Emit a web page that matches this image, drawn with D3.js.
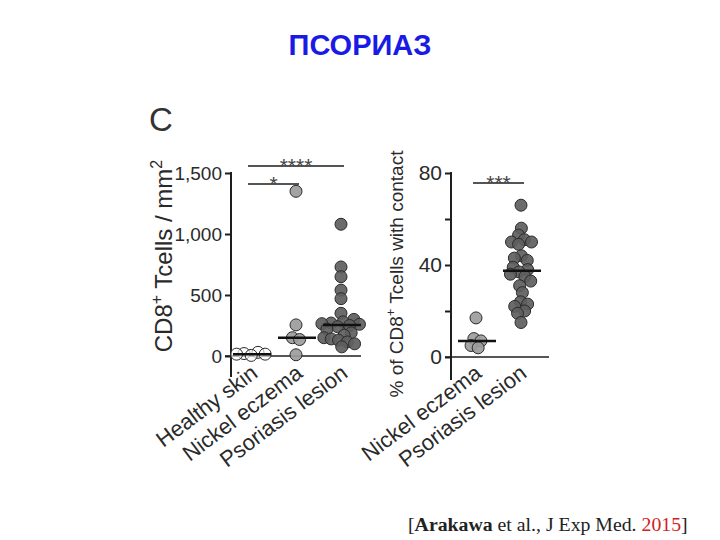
<!DOCTYPE html>
<html>
<head>
<meta charset="utf-8">
<script src="https://cdn.jsdelivr.net/npm/d3@7"></script>
<style>
  body { margin: 0; background: #fff; }
  svg { display: block; font-family: "Liberation Sans", Arial, sans-serif; }
</style>
</head>
<body>
<svg id="chart" width="720" height="540"></svg>
<script>
// ---------- data ----------
const leftCategories = ["Healthy skin", "Nickel eczema", "Psoriasis lesion"];
const leftHealthy = [30, 20, 15, 15, 5];
const leftNickel = [1350, 255, 150, 135, 10];
const leftPsoriasis = [1080, 730, 650, 540, 470, 350, 300, 280, 270, 265, 260, 250,
                       240, 220, 190, 170, 150, 140, 130, 115, 100, 75];
const leftTicks = [0, 500, 1000, 1500];
const leftTickLabels = ["0", "500", "1,000", "1,500"];

const rightCategories = ["Nickel eczema", "Psoriasis lesion"];
const rightNickel = [17, 8, 7, 5, 4];
const rightPsoriasis = [66, 56, 53, 51, 50, 50, 49, 44, 43, 42, 39, 38, 37, 36, 35,
                        33, 31, 28, 24, 23, 22, 20, 19, 15];
const rightTicks = [0, 20, 40, 60, 80];
const rightTickLabels = ["0", "", "40", "", "80"];

const leftSig = [{from: "Healthy skin", to: "Nickel eczema", label: "*", level: 0},
                 {from: "Healthy skin", to: "Psoriasis lesion", label: "****", level: 1}];
const rightSig = [{from: "Nickel eczema", to: "Psoriasis lesion", label: "***", level: 0}];

// ---------- styles ----------
const fills = {"Healthy skin": "#ffffff", "Nickel eczema": "#9c9c9c", "Psoriasis lesion": "#5e5e5e"};
const axisColor = "#1e1e1e";
const textColor = "#2a2a2a";
const R = 6;

const svg = d3.select("#chart");

// Title
svg.append("text").attr("x", 360).attr("y", 55).attr("text-anchor", "middle")
  .attr("font-size", 29).attr("font-weight", "bold").attr("fill", "#1a1ae6")
  .text("ПСОРИАЗ");

// Panel letter
svg.append("text").attr("x", 149).attr("y", 131)
  .attr("font-size", 33).attr("fill", "#333").text("C");

// Citation
const cit = svg.append("text").attr("x", 408).attr("y", 531)
  .attr("font-family", "'Liberation Serif', 'Times New Roman', serif")
  .attr("font-size", 19.8).attr("fill", "#222");
cit.append("tspan").text("[");
cit.append("tspan").attr("font-weight", "bold").text("Arakawa");
cit.append("tspan").text(" et al., J Exp Med. ");
cit.append("tspan").attr("fill", "#d42020").text("2015");
cit.append("tspan").text("]");

function swarm(values, cx, y) {
  const nodes = values.map((v, i) => ({v, x: cx, y: y(v), fy: y(v), i}));
  const sim = d3.forceSimulation(nodes)
    .force("x", d3.forceX(cx).strength(0.12))
    .force("collide", d3.forceCollide(R * 0.62))
    .stop();
  for (let k = 0; k < 300; k++) sim.tick();
  nodes.forEach(n => n.y = n.fy);
  return nodes;
}

function panel(opts) {
  const g = svg.append("g");
  const y = d3.scaleLinear().domain(opts.domain).range([opts.y0, opts.y1]);
  const x = d3.scalePoint().domain(opts.categories).range(opts.xRange);
  // y axis
  const axis = d3.axisLeft(y).tickValues(opts.ticks).tickSize(6)
    .tickFormat((d, i) => opts.tickLabels[i]);
  const ag = g.append("g").attr("transform", `translate(${opts.axisX},0)`).call(axis);
  ag.select(".domain").remove();
  ag.selectAll(".tick line").attr("stroke", axisColor).attr("stroke-width", 2);
  ag.selectAll(".tick text").attr("font-size", opts.tickFont).attr("fill", textColor)
    .attr("x", -9).attr("font-family", "'Liberation Sans', Arial, sans-serif");
  g.append("line").attr("x1", opts.axisX).attr("x2", opts.axisX)
    .attr("y1", y(opts.domain[1]) - 1).attr("y2", opts.axisBottom)
    .attr("stroke", axisColor).attr("stroke-width", 2);
  // baseline at 0
  g.append("line").attr("x1", opts.axisX - 6).attr("x2", opts.baseEnd)
    .attr("y1", y(0)).attr("y2", y(0))
    .attr("stroke", axisColor).attr("stroke-width", 1.5);

  // points
  opts.series.forEach((vals, si) => {
    const cat = opts.categories[si];
    const nodes = swarm(vals, x(cat), y);
    g.append("g").selectAll("circle").data(nodes).join("circle")
      .attr("cx", d => d.x).attr("cy", d => d.y).attr("r", R)
      .attr("fill", fills[cat]).attr("fill-opacity", cat === "Healthy skin" ? 0.6 : 0.92)
      .attr("stroke", "#2b2b2b").attr("stroke-width", 1);
    const med = d3.median(vals);
    g.append("line").attr("x1", x(cat) - 18).attr("x2", x(cat) + 20)
      .attr("y1", y(med)).attr("y2", y(med))
      .attr("stroke", "#111").attr("stroke-width", 2.5);
  });

  // significance
  opts.sig.forEach(s => {
    const yy = opts.sigY - s.level * opts.sigStep;
    const x1 = x(s.from) - 3, x2 = x(s.to) + 3;
    g.append("line").attr("x1", x1).attr("x2", x2).attr("y1", yy).attr("y2", yy)
      .attr("stroke", "#555").attr("stroke-width", 1.8);
    g.append("text").attr("x", (x1 + x2) / 2).attr("y", yy + 7).attr("text-anchor", "middle")
      .attr("font-size", 21).attr("fill", "#444").text(s.label);
  });

  // x labels
  opts.categories.forEach(cat => {
    g.append("text")
      .attr("transform", `translate(${x(cat) + opts.labelDx},${opts.labelY}) rotate(-37)`)
      .attr("text-anchor", "end").attr("font-size", opts.xFont).attr("fill", textColor)
      .text(cat);
  });

  // y label
  const yl = g.append("text")
    .attr("transform", `translate(${opts.ylabX},${opts.ylabY}) rotate(-90)`)
    .attr("text-anchor", "middle").attr("font-size", opts.ylabFont).attr("fill", textColor);
  opts.ylab(yl);
}

panel({
  domain: [0, 1500], y0: 356, y1: 173, axisX: 231, axisBottom: 377, baseEnd: 361,
  categories: leftCategories, xRange: [251, 341],
  ticks: leftTicks, tickLabels: leftTickLabels, tickFont: 19,
  series: [leftHealthy, leftNickel, leftPsoriasis],
  sig: leftSig, sigY: 184, sigStep: 18,
  labelDx: 8, labelY: 376, xFont: 22,
  ylabX: 172, ylabY: 256, ylabFont: 24,
  ylab: t => {
    t.append("tspan").text("CD8");
    t.append("tspan").attr("dy", -10).attr("font-size", 16).text("+");
    t.append("tspan").attr("dy", 10).text(" Tcells / mm");
    t.append("tspan").attr("dy", -10).attr("font-size", 16).text("2");
  }
});

panel({
  domain: [0, 80], y0: 357, y1: 173, axisX: 451, axisBottom: 380, baseEnd: 549,
  categories: rightCategories, xRange: [476, 521],
  ticks: rightTicks, tickLabels: rightTickLabels, tickFont: 21,
  series: [rightNickel, rightPsoriasis],
  sig: rightSig, sigY: 183, sigStep: 18,
  labelDx: 7, labelY: 376, xFont: 22,
  ylabX: 403, ylabY: 274, ylabFont: 19,
  ylab: t => {
    t.append("tspan").text("% of CD8");
    t.append("tspan").attr("dy", -8).attr("font-size", 13).text("+");
    t.append("tspan").attr("dy", 8).text(" Tcells with contact");
  }
});
</script>
</body>
</html>
